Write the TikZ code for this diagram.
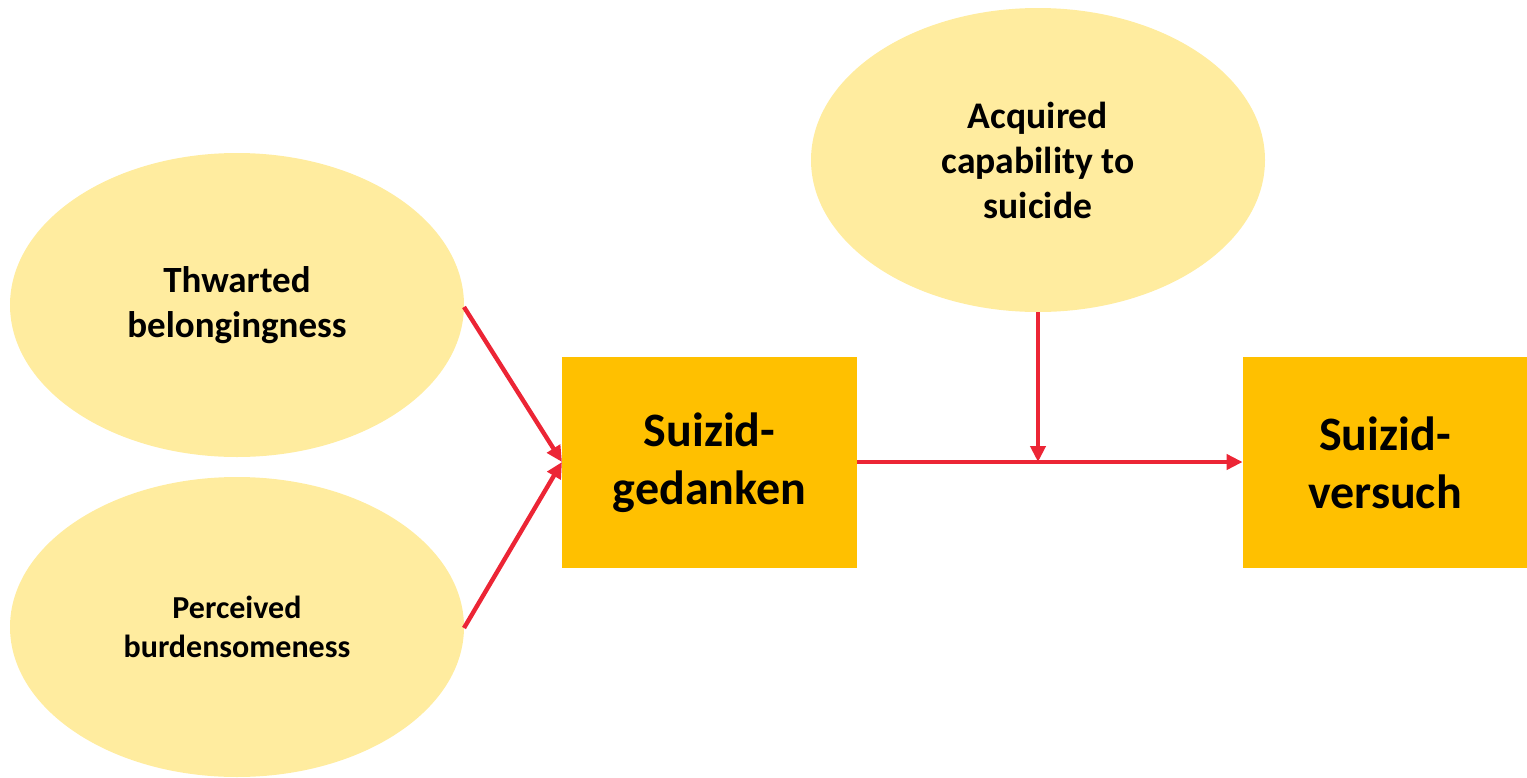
\documentclass[tikz,border=0pt]{standalone}
\usepackage{fontspec}
\setmainfont{Carlito}
\usetikzlibrary{shapes.geometric,arrows.meta}
\definecolor{ellfill}{HTML}{FFEC9F}
\definecolor{boxfill}{HTML}{FFC000}
\definecolor{arrred}{HTML}{EC2535}
\begin{document}
\begin{tikzpicture}[x=0.5pt,y=-0.5pt,
  ell/.style={ellipse,fill=ellfill,draw=none,inner sep=0pt,align=center,font=\bfseries},
  boxn/.style={rectangle,fill=boxfill,draw=none,inner sep=0pt,align=center,font=\fontsize{24}{29}\selectfont\bfseries},
  conn/.style={draw=arrred,line width=2.2pt,-{Triangle[length=8pt,width=7.5pt]}}]
\useasboundingbox (0,0) rectangle (1527,777);
\node[ell,minimum width=454*0.5pt,minimum height=304*0.5pt,font=\fontsize{18.5}{22.5}\selectfont\bfseries] (tb) at (237,305) {Thwarted\\belongingness};
\node[ell,minimum width=454*0.5pt,minimum height=300*0.5pt,font=\fontsize{16}{19.5}\selectfont\bfseries] (pb) at (237,627) {Perceived\\burdensomeness};
\node[ell,minimum width=454*0.5pt,minimum height=304*0.5pt,font=\fontsize{18.8}{22.5}\selectfont\bfseries] (ac) at (1038,160) {Acquired\\capability to\\suicide};
\node[boxn,minimum width=295*0.5pt,minimum height=211*0.5pt] (sg) at (709.5,462.5) {Suizid-\\gedanken};
\node[boxn,minimum width=284*0.5pt,minimum height=211*0.5pt] (sv) at (1385,462.5) {Suizid-\\versuch};
\coordinate (tbE) at (464,307);
\coordinate (pbE) at (464,628);
\coordinate (sgW) at (562,462);
\coordinate (acS) at (1038,312);
\coordinate (mid) at (1038,462);
\draw[conn] (tbE) -- (sgW);
\draw[conn] (pbE) -- (sgW);
\draw[conn] (sg.east |- sgW) -- (sv.west |- sgW);
\draw[conn] (acS) -- (mid);
\end{tikzpicture}
\end{document}
